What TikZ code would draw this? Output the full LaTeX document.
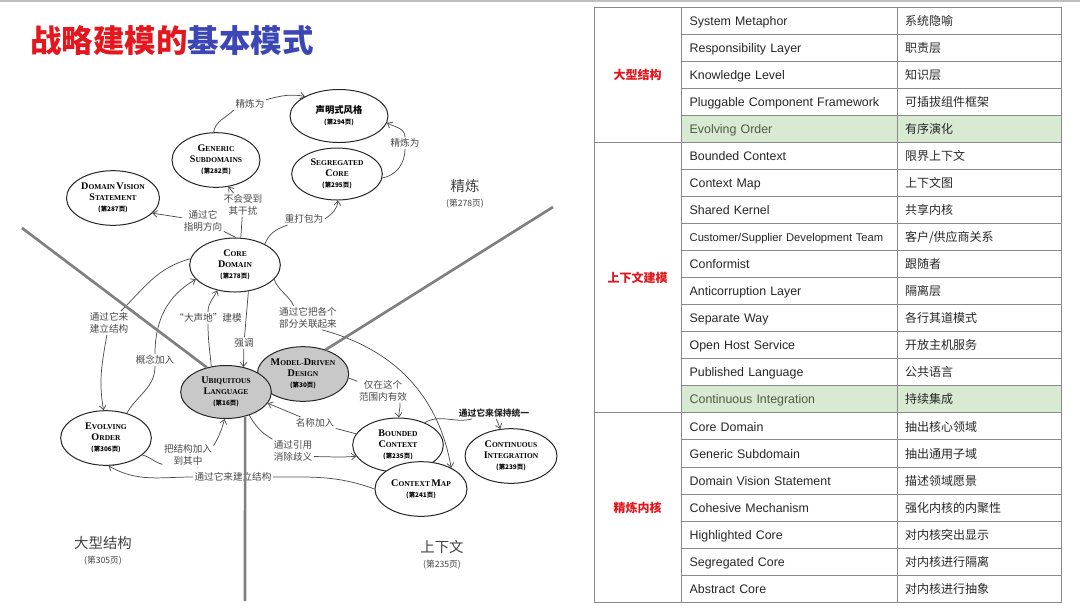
\documentclass[tikz,border=0pt]{standalone}
\usepackage{fontspec}
\usepackage{tikz}
\usetikzlibrary{positioning,shapes.geometric,arrows.meta}

\newfontfamily\cjk{Noto Sans CJK SC}
\newfontfamily\tabfont{Liberation Sans}
\newfontfamily\elfont{Liberation Serif}

\definecolor{titlered}{HTML}{E3171D}
\definecolor{titleblue}{HTML}{3C47B5}
\definecolor{tabred}{HTML}{E0161C}
\definecolor{rowgreen}{HTML}{D9EAD3}
\definecolor{rowtext}{HTML}{4E5B45}
\definecolor{tblline}{HTML}{8A8A8A}
\definecolor{lblgray}{HTML}{4A4A4A}
\definecolor{divgray}{HTML}{808080}
\definecolor{ellgray}{HTML}{C8C8C8}

\newcommand{\capword}[2]{{\fontsize{7.6}{8.3}\selectfont #1}{\fontsize{5.6}{8.3}\selectfont #2}}
\newcommand{\pgnum}[1]{{\cjk\fontsize{4.8}{8.3}\selectfont (第#1页)}}

\begin{document}
\begin{tikzpicture}[
    x=0.75pt, y=-0.75pt,
    ell/.style={ellipse, draw=black!85, line width=0.75pt, fill=white, minimum width=68pt, minimum height=41pt, inner sep=0pt, align=center, font=\elfont\bfseries\fontsize{5.6}{8.3}\selectfont},
    shade/.style={ell, fill=ellgray},
    elab/.style={fill=white, inner sep=1pt, align=center, text=lblgray, font=\cjk\fontsize{7.2}{8.8}\selectfont},
    area/.style={align=center, text=black!75, font=\cjk\fontsize{10.8}{11.5}\selectfont},
    link/.style={draw=black!70, line width=0.55pt},
    conn/.style={link, -{Straight Barb[length=3.2pt,width=5pt]}},
    divider/.style={draw=divgray, line width=2pt},
    colb/.style={rectangle, draw=tblline, line width=0.6pt, outer sep=0pt, minimum height=20.29pt, text width=149pt, text height=9pt, text depth=2pt, inner xsep=6.5pt, inner ysep=0pt, align=left, text=black!85, font=\tabfont\fontsize{9.3}{11}\selectfont},
    colc/.style={colb, text width=111pt, inner xsep=6pt, font=\cjk\fontsize{9}{11}\selectfont},
    grp/.style={rectangle, draw=tblline, line width=0.6pt, outer sep=0pt, inner sep=0pt, minimum width=65.25pt, text=tabred, font=\cjk\bfseries\fontsize{9}{11}\selectfont}
]
\useasboundingbox (0,0) rectangle (1080,608);
\draw[gray!50, line width=1.2pt] (0,1) -- (1080,1);

% Title
\node[anchor=west, inner sep=0pt, font=\cjk\bfseries\fontsize{23.6}{26}\selectfont] (title) at (30,40)
    {\textcolor{titlered}{战略建模的}\textcolor{titleblue}{基本模式}};

% Patterns
\node[ell, minimum width=73.5pt, minimum height=39.75pt] (declar) at (339,116)
    {{\cjk\bfseries\fontsize{7}{8.3}\selectfont 声明式风格}\\\pgnum{294}};
\node[ell, minimum height=39pt] (segcore) at (337,174) {\capword{S}{EGREGATED}\\\capword{C}{ORE}\\\pgnum{295}};
\node[ell, minimum width=66pt] (generic) at (216,160) {\capword{G}{ENERIC}\\\capword{S}{UBDOMAINS}\\\pgnum{282}};
\node[ell, minimum width=69.75pt] (vision) at (113,198) {\capword{D}{OMAIN}\,\capword{V}{ISION}\\\capword{S}{TATEMENT}\\\pgnum{287}};
\node[ell, minimum height=40.5pt] (core) at (235,265) {\capword{C}{ORE}\\\capword{D}{OMAIN}\\\pgnum{278}};
\node[shade] (mdd) at (303,374) {\capword{M}{ODEL}-\capword{D}{RIVEN}\\\capword{D}{ESIGN}\\\pgnum{30}};
\node[shade, minimum height=39.75pt] (ubiq) at (226,392) {\capword{U}{BIQUITOUS}\\\capword{L}{ANGUAGE}\\\pgnum{16}};
\node[ell] (evolving) at (106,438) {\capword{E}{VOLVING}\\\capword{O}{RDER}\\\pgnum{306}};
\node[ell, minimum height=40.5pt] (bounded) at (398,445) {\capword{B}{OUNDED}\\\capword{C}{ONTEXT}\\\pgnum{235}};
\node[ell, minimum width=69pt] (ctxmap) at (421,489) {\capword{C}{ONTEXT}\,\capword{M}{AP}\\\pgnum{241}};
\node[ell, minimum width=69pt] (ci) at (511,456) {\capword{C}{ONTINUOUS}\\\capword{I}{NTEGRATION}\\\pgnum{239}};

% Areas
\node[area] (arefine) at (465,194) {精炼\\{\fontsize{6.5}{7}\selectfont (第278页)}};
\node[area] (astruct) at (103,551) {大型结构\\{\fontsize{6.5}{7}\selectfont (第305页)}};
\node[area] (acontext) at (442,555) {上下文\\{\fontsize{6.5}{7}\selectfont (第235页)}};

% Edge labels
\node[elab] (l1) at (250,104) {精炼为};
\node[elab] (l2) at (405,143) {精炼为};
\node[elab] (l3) at (243,205) {不会受到\\其干扰};
\node[elab] (l4) at (203,221) {通过它\\指明方向};
\node[elab] (l5) at (304,219) {重打包为};
\node[elab] (l6) at (308,318) {通过它把各个\\部分关联起来};
\node[elab] (l7) at (208,318) {“大声地”建模};
\node[elab] (l8) at (244,343) {强调};
\node[elab] (l9) at (109,323) {通过它来\\建立结构};
\node[elab] (l10) at (155,360) {概念加入};
\node[elab] (l11) at (188,455) {把结构加入\\到其中};
\node[elab] (l12) at (233,477) {通过它来建立结构};
\node[elab] (l13) at (315,423) {名称加入};
\node[elab] (l14) at (293,451) {通过引用\\消除歧义};
\node[elab] (l15) at (383,391) {仅在这个\\范围内有效};
\node[elab, text=black!85, font=\cjk\bfseries\fontsize{6.6}{8}\selectfont] (l16) at (494,413) {通过它来保持统一};

% Links
\draw[link] (generic.95) to[out=80,in=225] (l1.200);
\draw[conn] (l1.15) to[out=15,in=170] (declar.150);
\draw[link] (segcore.-5) to[out=10,in=-90] (l2);
\draw[conn] (l2) to[out=90,in=-30] (declar.-8);
\draw[link] (core.78) -- (l3);
\draw[conn] (l3) -- (generic.-65);
\draw[link] (core.88) -- (l4);
\draw[conn] (l4) -- (vision.-21);
\draw[link] (core.35) to[out=70,in=200] (l5);
\draw[conn] (l5.east) to[out=35,in=-95] (segcore.-88);
\draw[link] (core.-20) to[out=-70,in=115] (l6.140);
\draw[conn] (l6.-40) to[out=-15,in=100] (ctxmap.35);
\draw[link] (ubiq.120) to[out=95,in=-90] (l7);
\draw[conn] (l7) to[out=90,in=-115] (core.235);
\draw[link] (core.-63) -- (l8);
\draw[conn] (l8) -- (ubiq.55);
\draw[link] (core.172) to[out=195,in=45] (l9);
\draw[conn] (l9) to[out=-100,in=100] (evolving.95);
\draw[link] (evolving.50) to[out=60,in=-90] (l10);
\draw[conn] (l10) to[out=90,in=210] (core.200);
\draw[link] (evolving.-25) to[out=-15,in=165] (l11.200);
\draw[conn] (l11.20) to[out=60,in=-105] (ubiq.-93);
\draw[link] (ctxmap.180) to[out=160,in=0] (l12);
\draw[conn] (l12) to[out=180,in=-30] (evolving.-85);
\draw[link] (bounded.165) -- (l13);
\draw[conn] (l13) -- (ubiq.-15);
\draw[link] (ubiq.-45) to[out=-60,in=150] (l14);
\draw[conn] (l14.-15) to[out=0,in=185] (bounded.195);
\draw[link] (mdd.-5) -- (l15);
\draw[conn] (l15.-35) to[out=-85,in=95] (bounded.88);
\draw[link] (bounded.40) to[out=30,in=195] (l16);
\draw[conn] (l16) -- (ci);

% Dividers
\coordinate (nw) at (22,228);
\coordinate (ne) at (553,207);
\coordinate (so) at (245,601);
\draw[divider] (nw) -- (ubiq.128);
\draw[divider] (mdd.47) -- (ne);
\draw[divider] (ubiq.-52) -- (so);

% Table
\node[colb, anchor=north west] (r1) at (681,7) {System Metaphor};
\node[colb, below=0pt of r1] (r2) {Responsibility Layer};
\node[colb, below=0pt of r2] (r3) {Knowledge Level};
\node[colb, below=0pt of r3] (r4) {Pluggable Component Framework};
\node[colb, below=0pt of r4, fill=rowgreen, text=rowtext] (r5) {Evolving Order};
\node[colb, below=0pt of r5] (r6) {Bounded Context};
\node[colb, below=0pt of r6] (r7) {Context Map};
\node[colb, below=0pt of r7] (r8) {Shared Kernel};
\node[colb, below=0pt of r8, font=\tabfont\fontsize{8.4}{10}\selectfont] (r9) {Customer/Supplier Development Team};
\node[colb, below=0pt of r9] (r10) {Conformist};
\node[colb, below=0pt of r10] (r11) {Anticorruption Layer};
\node[colb, below=0pt of r11] (r12) {Separate Way};
\node[colb, below=0pt of r12] (r13) {Open Host Service};
\node[colb, below=0pt of r13] (r14) {Published Language};
\node[colb, below=0pt of r14, fill=rowgreen, text=rowtext] (r15) {Continuous Integration};
\node[colb, below=0pt of r15] (r16) {Core Domain};
\node[colb, below=0pt of r16] (r17) {Generic Subdomain};
\node[colb, below=0pt of r17] (r18) {Domain Vision Statement};
\node[colb, below=0pt of r18] (r19) {Cohesive Mechanism};
\node[colb, below=0pt of r19] (r20) {Highlighted Core};
\node[colb, below=0pt of r20] (r21) {Segregated Core};
\node[colb, below=0pt of r21] (r22) {Abstract Core};

\node[colc, right=0pt of r1] (z1) {系统隐喻};
\node[colc, right=0pt of r2] (z2) {职责层};
\node[colc, right=0pt of r3] (z3) {知识层};
\node[colc, right=0pt of r4] (z4) {可插拔组件框架};
\node[colc, right=0pt of r5, fill=rowgreen] (z5) {有序演化};
\node[colc, right=0pt of r6] (z6) {限界上下文};
\node[colc, right=0pt of r7] (z7) {上下文图};
\node[colc, right=0pt of r8] (z8) {共享内核};
\node[colc, right=0pt of r9] (z9) {客户/供应商关系};
\node[colc, right=0pt of r10] (z10) {跟随者};
\node[colc, right=0pt of r11] (z11) {隔离层};
\node[colc, right=0pt of r12] (z12) {各行其道模式};
\node[colc, right=0pt of r13] (z13) {开放主机服务};
\node[colc, right=0pt of r14] (z14) {公共语言};
\node[colc, right=0pt of r15, fill=rowgreen] (z15) {持续集成};
\node[colc, right=0pt of r16] (z16) {抽出核心领域};
\node[colc, right=0pt of r17] (z17) {抽出通用子域};
\node[colc, right=0pt of r18] (z18) {描述领域愿景};
\node[colc, right=0pt of r19] (z19) {强化内核的内聚性};
\node[colc, right=0pt of r20] (z20) {对内核突出显示};
\node[colc, right=0pt of r21] (z21) {对内核进行隔离};
\node[colc, right=0pt of r22] (z22) {对内核进行抽象};

\node[grp, minimum height=101.45pt, anchor=north east] (gstruct) at (r1.north west) {大型结构};
\node[grp, minimum height=202.9pt, anchor=north east] (gcontext) at (r6.north west) {上下文建模};
\node[grp, minimum height=142.03pt, anchor=north east] (grefine) at (r16.north west) {精炼内核};

\end{tikzpicture}
\end{document}
